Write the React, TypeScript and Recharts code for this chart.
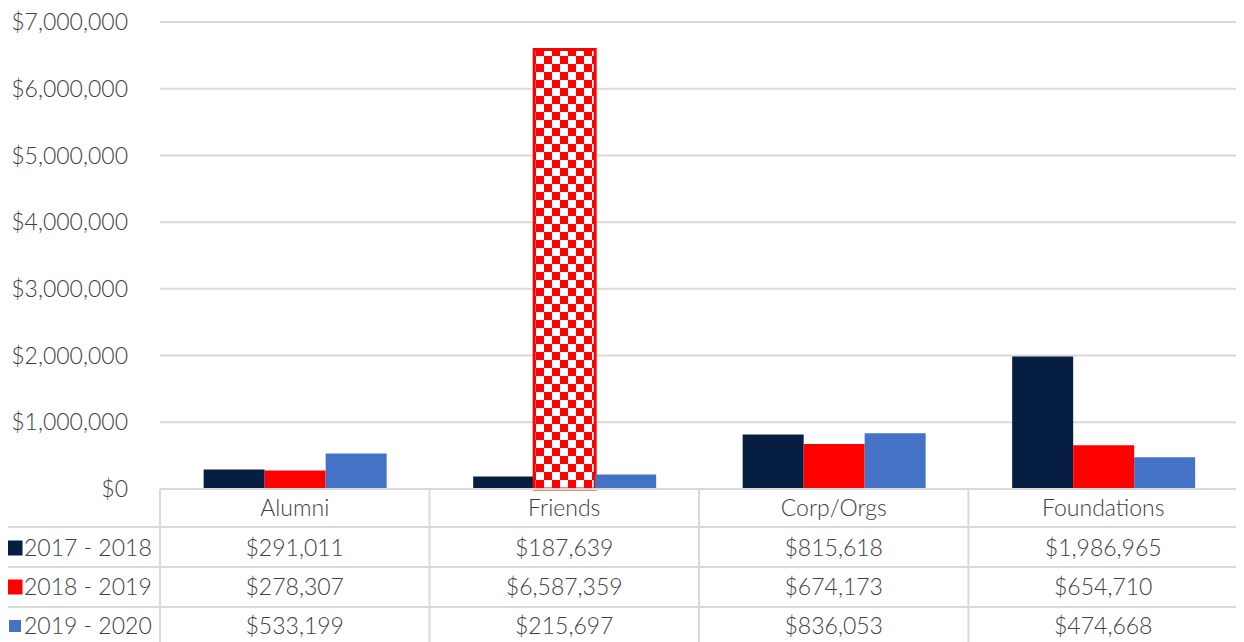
import React from 'react';
import { BarChart, Bar, XAxis, YAxis, CartesianGrid, Cell } from 'recharts';

const categories = ['Alumni', 'Friends', 'Corp/Orgs', 'Foundations'];
const seriesNames = ['2017 - 2018', '2018 - 2019', '2019 - 2020'];
const values2017 = [291011, 187639, 815618, 1986965];
const values2018 = [278307, 6587359, 674173, 654710];
const values2019 = [533199, 215697, 836053, 474668];
const yTicks = [0, 1000000, 2000000, 3000000, 4000000, 5000000, 6000000, 7000000];

const seriesKeys = ['s2017', 's2018', 's2019'];
const seriesValues = [values2017, values2018, values2019];
const colors = ['#051E42', '#FF0000', '#4472C4'];

const data = categories.map((c, i) => ({
  name: c,
  s2017: values2017[i],
  s2018: values2018[i],
  s2019: values2019[i],
}));

const W = 1236;
const H = 634;
const LEFT = 152;
const RIGHT_MARGIN = 6;
const TOP = 14;
const XAXIS_H = 153;
const BAND = (W - LEFT - RIGHT_MARGIN) / categories.length;
const FONT = 'Lato, "Open Sans", sans-serif';
const TEXT = '#404040';
const LINE = '#d9d9d9';
const TABLE_FS = 23;
const AXIS_FS = 23;
const WEIGHT = 300;

const fmt = (v: number) => '$' + v.toLocaleString('en-US');

const rowLines = [38, 78, 118];
const rowCenters = [58, 97, 136];

const TableTick = (props: any) => {
  const { x, y, payload } = props;
  const i = payload.index;
  const left = x - BAND / 2;
  const right = x + BAND / 2;
  return (
    <g>
      <line x1={right} x2={right} y1={y} y2={H + 10} stroke={LINE} strokeWidth={2} />
      {i === 0 && <line x1={left} x2={left} y1={y} y2={H + 10} stroke={LINE} strokeWidth={2} />}
      {rowLines.map((dy, k) => (
        <line key={k} x1={i === 0 ? 0 : left} x2={right} y1={y + dy} y2={y + dy} stroke={LINE} strokeWidth={2} />
      ))}
      <text x={x} y={y + 18} textAnchor="middle" dominantBaseline="central" fontFamily={FONT} fontWeight={WEIGHT} fontSize={TABLE_FS} fill={TEXT}>
        {categories[i]}
      </text>
      {seriesValues.map((vals, k) => (
        <text key={k} x={x} y={y + rowCenters[k]} textAnchor="middle" dominantBaseline="central" fontFamily={FONT} fontWeight={WEIGHT} fontSize={TABLE_FS} fill={TEXT}>
          {fmt(vals[i])}
        </text>
      ))}
      {i === 0 &&
        seriesNames.map((n, k) => {
          const sz = k === 2 ? 12 : 15;
          return (
            <g key={k}>
              <rect x={7 - sz / 2} y={y + rowCenters[k] - sz / 2 + 1} width={sz} height={sz} fill={colors[k]} />
              <text x={16} y={y + rowCenters[k]} textAnchor="start" dominantBaseline="central" fontFamily={FONT} fontWeight={WEIGHT} fontSize={TABLE_FS} fill={TEXT}>
                {n}
              </text>
            </g>
          );
        })}
    </g>
  );
};

export default function App() {
  return (
    <div style={{ width: W, height: H, background: '#fff' }}>
      <BarChart
        width={W}
        height={H}
        data={data}
        margin={{ top: TOP, right: RIGHT_MARGIN, left: 0, bottom: 0 }}
        barCategoryGap="16.2%"
        barGap={0}
      >
        <defs>
          <pattern id="checker" patternUnits="userSpaceOnUse" width={16} height={16}>
            <rect x={0} y={0} width={16} height={16} fill="#FF0000" />
            <rect x={0} y={0} width={8} height={8} fill="#ffffff" />
            <rect x={8} y={8} width={8} height={8} fill="#ffffff" />
          </pattern>
        </defs>
        <CartesianGrid vertical={false} stroke={LINE} strokeWidth={2} />
        <YAxis
          width={LEFT}
          domain={[0, 7000000]}
          ticks={yTicks}
          tickFormatter={fmt}
          axisLine={false}
          tickLine={false}
          tickSize={0}
          tickMargin={32}
          tick={{ fontFamily: FONT, fontSize: AXIS_FS, fontWeight: WEIGHT, fill: TEXT }}
          interval={0}
        />
        <XAxis
          dataKey="name"
          height={XAXIS_H}
          axisLine={{ stroke: LINE, strokeWidth: 2 }}
          tickLine={false}
          tickSize={0}
          tickMargin={0}
          interval={0}
          tick={<TableTick />}
        />
        {seriesKeys.map((k, si) => (
          <Bar key={k} dataKey={k} fill={colors[si]} isAnimationActive={false}>
            {data.map((d, ci) =>
              si === 1 && ci === 1 ? (
                <Cell key={ci} fill="url(#checker)" stroke="#FF0000" strokeWidth={3} />
              ) : (
                <Cell key={ci} fill={colors[si]} />
              )
            )}
          </Bar>
        ))}
      </BarChart>
    </div>
  );
}
